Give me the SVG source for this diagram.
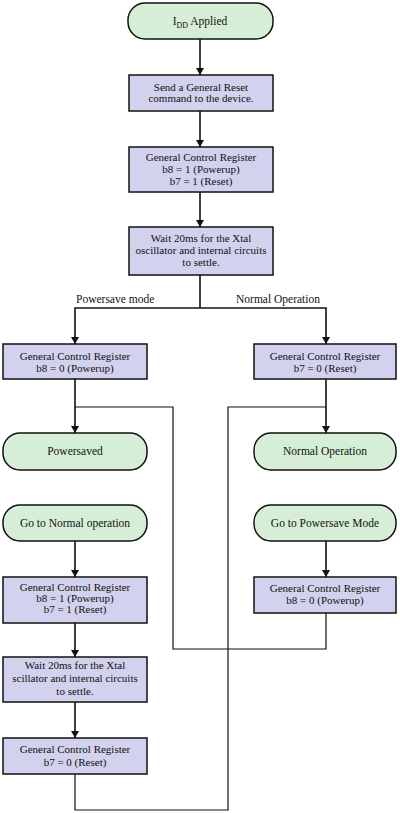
<svg xmlns="http://www.w3.org/2000/svg" width="400" height="813" viewBox="0 0 400 813">
<style>
.term{fill:#d6eed6;stroke:#111;stroke-width:1.5}
.box{fill:#d2d2ee;stroke:#111;stroke-width:1.5}
text{font-family:"Liberation Serif","Times New Roman",serif;font-size:11px;fill:#111;text-anchor:middle}
.t{font-size:11.5px}
.lbl{font-size:11.5px;text-anchor:start}
.c{fill:none;stroke:#111;stroke-width:1.6}
.l{fill:none;stroke:#111;stroke-width:1.2}
</style>
<defs>
<marker id="ah" markerUnits="userSpaceOnUse" markerWidth="8" markerHeight="8" refX="7" refY="4" orient="auto">
<path d="M0,0 L7,4 L0,8 z" fill="#111"/>
</marker>
</defs>
<rect width="400" height="813" fill="#fff"/>
<g id="connectors">
<path class="c" d="M200,39 V75" marker-end="url(#ah)"/>
<path class="c" d="M200,111 V147" marker-end="url(#ah)"/>
<path class="c" d="M200,192 V227" marker-end="url(#ah)"/>
<path class="c" d="M200,275 V308"/>
<path class="c" d="M200,308 H75 V344" marker-end="url(#ah)"/>
<path class="c" d="M200,308 H326 V344" marker-end="url(#ah)"/>
<path class="c" d="M75,379 V433" marker-end="url(#ah)"/>
<path class="c" d="M326,379 V433" marker-end="url(#ah)"/>
<path class="l" d="M326,613 V649 H173 V407 H75"/>
<path class="l" d="M75,774 V810 H228 V407 H326"/>
<path class="c" d="M75,541 V577" marker-end="url(#ah)"/>
<path class="c" d="M326,541 V577" marker-end="url(#ah)"/>
<path class="c" d="M75,623 V657" marker-end="url(#ah)"/>
<path class="c" d="M75,702 V738" marker-end="url(#ah)"/>
<text class="lbl" x="76" y="303">Powersave mode</text>
<text class="lbl" x="236" y="303">Normal Operation</text>
</g>
<g id="n1">
<rect class="term" x="128" y="3" width="145" height="36" rx="17" ry="17"/>
<text class="t" x="200" y="25">I<tspan font-size="8" dy="3">DD</tspan><tspan dy="-3"> Applied</tspan></text>
</g>
<g id="n2">
<rect class="box" x="129" y="75" width="144" height="36"/>
<text x="201" y="91">Send a General Reset</text>
<text x="201" y="102">command to the device.</text>
</g>
<g id="n3">
<rect class="box" x="129" y="147" width="144" height="45"/>
<text x="201" y="161">General Control Register</text>
<text x="201" y="173">b8 = 1 (Powerup)</text>
<text x="201" y="185">b7 = 1 (Reset)</text>
</g>
<g id="n4">
<rect class="box" x="129" y="227" width="144" height="48"/>
<text x="201" y="242">Wait 20ms for the Xtal</text>
<text x="201" y="254">oscillator and internal circuits</text>
<text x="201" y="266">to settle.</text>
</g>
<g id="n5">
<rect class="box" x="3" y="344" width="144" height="35"/>
<text x="75" y="360">General Control Register</text>
<text x="75" y="372">b8 = 0 (Powerup)</text>
</g>
<g id="n6">
<rect class="box" x="254" y="344" width="142" height="35"/>
<text x="325" y="360">General Control Register</text>
<text x="325" y="372">b7 = 0 (Reset)</text>
</g>
<g id="n7">
<rect class="term" x="3" y="433" width="144" height="37" rx="17" ry="17"/>
<text class="t" x="75" y="455">Powersaved</text>
</g>
<g id="n8">
<rect class="term" x="254" y="433" width="142" height="37" rx="17" ry="17"/>
<text class="t" x="325" y="455">Normal Operation</text>
</g>
<g id="n9">
<rect class="term" x="3" y="505" width="144" height="36" rx="17" ry="17"/>
<text class="t" x="75" y="527">Go to Normal operation</text>
</g>
<g id="n10">
<rect class="term" x="254" y="505" width="142" height="36" rx="17" ry="17"/>
<text class="t" x="325" y="527">Go to Powersave Mode</text>
</g>
<g id="n11">
<rect class="box" x="3" y="577" width="144" height="46"/>
<text x="75" y="591">General Control Register</text>
<text x="75" y="602">b8 = 1 (Powerup)</text>
<text x="75" y="613">b7 = 1 (Reset)</text>
</g>
<g id="n12">
<rect class="box" x="254" y="577" width="142" height="36"/>
<text x="325" y="592">General Control Register</text>
<text x="325" y="604">b8 = 0 (Powerup)</text>
</g>
<g id="n13">
<rect class="box" x="3" y="657" width="144" height="45"/>
<text x="75" y="669">Wait 20ms for the Xtal</text>
<text x="75" y="682">scillator and internal circuits</text>
<text x="75" y="695">to settle.</text>
</g>
<g id="n14">
<rect class="box" x="3" y="738" width="144" height="36"/>
<text x="75" y="753">General Control Register</text>
<text x="75" y="766">b7 = 0 (Reset)</text>
</g>
</svg>
